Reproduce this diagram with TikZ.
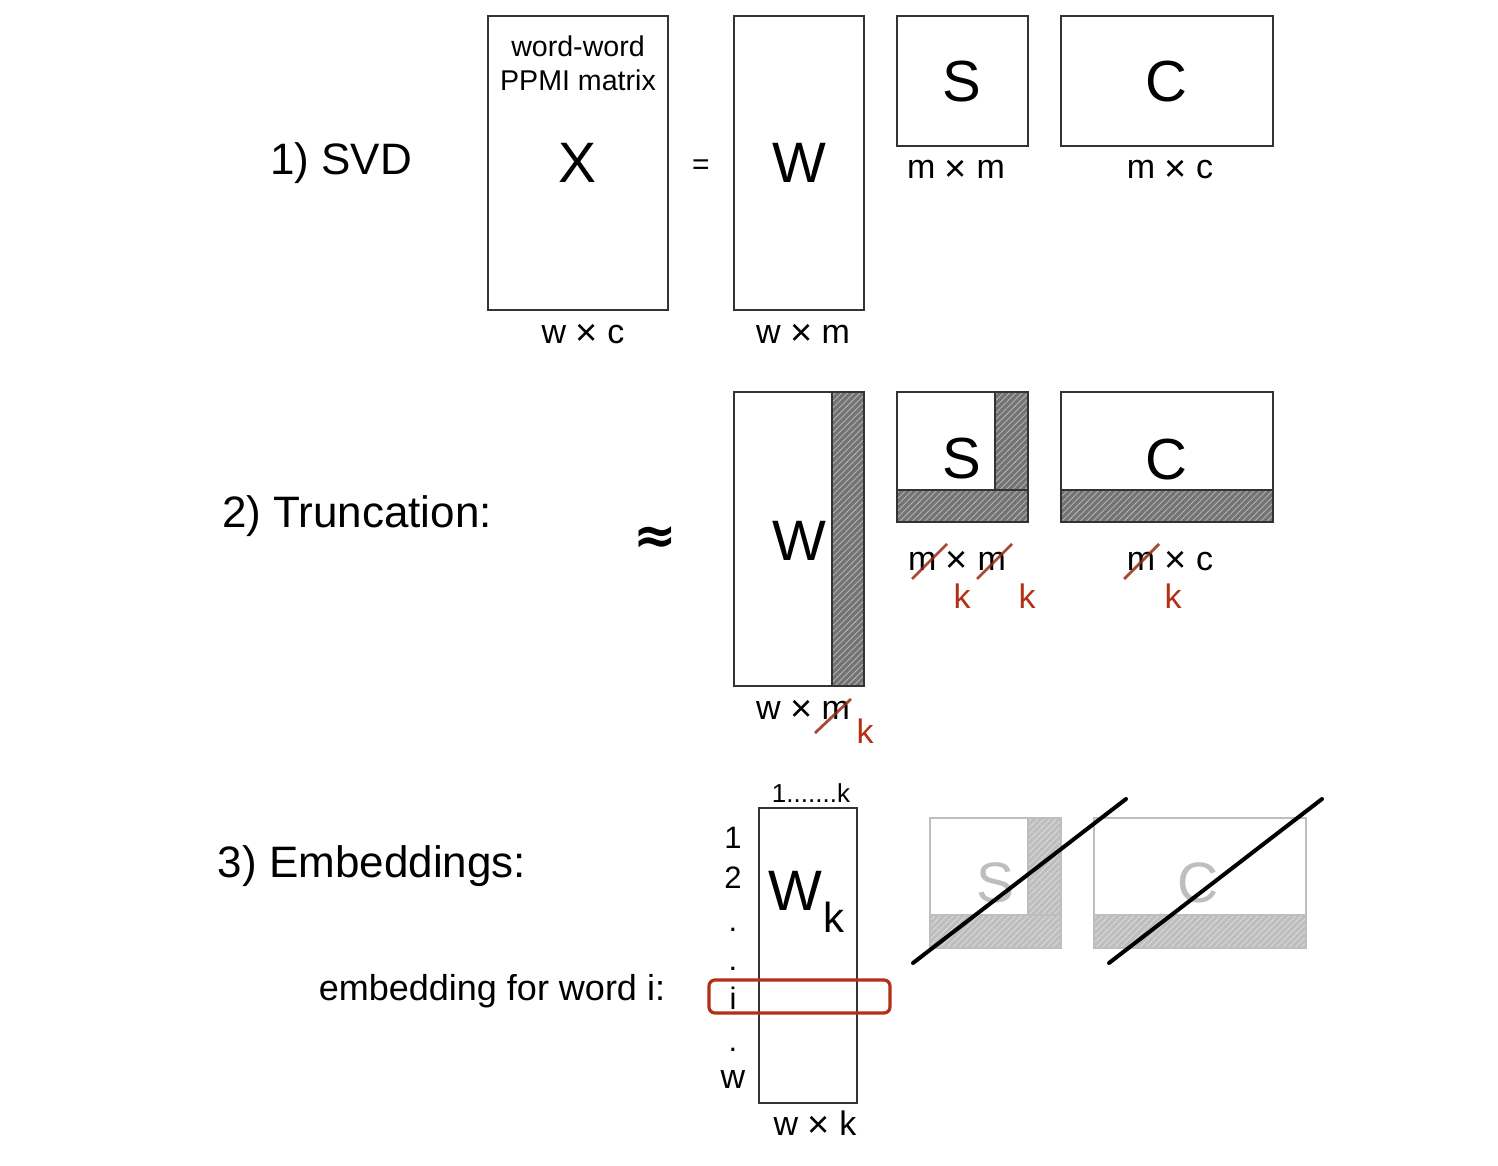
\documentclass[tikz,border=0pt]{standalone}
\usepackage{fontspec}
\setmainfont{Liberation Sans}
\newfontfamily\symfont{DejaVu Sans}
\usetikzlibrary{patterns.meta}
\definecolor{redk}{RGB}{178,48,22}
\definecolor{fadeg}{RGB}{190,190,190}
\tikzset{
  mbox/.style={draw=black!80, line width=1pt},
  fbox/.style={draw=fadeg, line width=1pt},
  hatch/.style={preaction={fill=black!55}, pattern={Lines[angle=45,distance=2.2pt,line width=0.45pt]}, pattern color=white!70!black},
  fhatch/.style={preaction={fill=fadeg}, pattern={Lines[angle=45,distance=2.2pt,line width=0.45pt]}, pattern color=white!85!black},
  titlelab/.style={font=\fontsize{22pt}{26pt}\selectfont, anchor=base, inner sep=0pt},
  biglab/.style={font=\fontsize{28.5pt}{32pt}\selectfont, anchor=base, inner sep=0pt},
  bigS/.style={font=\fontsize{29pt}{32pt}\selectfont, anchor=base, inner sep=0pt},
  dimlab/.style={font=\fontsize{17pt}{20pt}\selectfont, anchor=base, inner sep=0pt},
  klab/.style={font=\fontsize{17pt}{20pt}\selectfont, anchor=base, inner sep=0pt, text=redk},
  smalllab/.style={font=\fontsize{14.3pt}{17pt}\selectfont, anchor=base, inner sep=0pt},
  rowlab/.style={font=\fontsize{15.5pt}{18pt}\selectfont, anchor=base, inner sep=0pt},
  strike/.style={draw=redk!85!black, line width=1.4pt, opacity=0.85},
  cross/.style={draw=black, line width=2pt, line cap=round},
}
\newcommand{\tms}{\raisebox{-1.3pt}{\fontsize{19pt}{20pt}\selectfont ×}}
\begin{document}
\begin{tikzpicture}[x=0.5pt,y=-0.5pt]
\useasboundingbox (0,0) rectangle (1498,1166);
% ---------- row 1 ----------
\node[titlelab] (t1) at (341,175) {1) SVD};
\draw[mbox] (488,16) rectangle (668,310);
\node[smalllab] (ww) at (578,57) {word-word};
\node[smalllab] (ppmi) at (578,91) {PPMI matrix};
\node[biglab] (X) at (578,183) {X};
\node[dimlab] (dX) at (583,343) {w \tms{} c};
\node[font=\fontsize{15pt}{16pt}\selectfont, inner sep=0pt] (eq) at (701,167) {=};
\draw[mbox] (734,16) rectangle (864,310);
\node[biglab] (W1) at (799,183) {W};
\node[dimlab] (dW1) at (803,343) {w \tms{} m};
\draw[mbox] (897,16) rectangle (1028,146);
\node[bigS] (S1) at (962,102) {S};
\node[dimlab] (dS1) at (956,179) {m \tms{} m};
\draw[mbox] (1061,16) rectangle (1273,146);
\node[bigS] (C1) at (1166,102) {C};
\node[dimlab] (dC1) at (1170,179) {m \tms{} c};
% ---------- row 2 ----------
\node[titlelab] (t2) at (357,527) {2) Truncation:};
\node[font=\symfont\bfseries\fontsize{26pt}{30pt}\selectfont, inner sep=0pt] (approx) at (655,540) {≈};
\path[hatch] (832,392) rectangle (864,686);
\draw[mbox] (734,392) rectangle (864,686);
\draw[mbox] (832,392) -- (832,686);
\node[biglab] (W2) at (799,560) {W};
\node[dimlab] (dW2) at (803,719) {w \tms{} m};
\draw[strike] (815,733) -- (851,699);
\node[klab] (kW2) at (865,743) {k};
% S truncated
\path[hatch] (995,392) rectangle (1028,490);
\path[hatch] (897,490) rectangle (1028,522);
\draw[mbox] (897,392) rectangle (1028,522);
\draw[mbox] (897,490) -- (1028,490);
\draw[mbox] (995,392) -- (995,490);
\node[bigS] (S2) at (962,478) {S};
\node[dimlab] (dS2) at (957,570) {m \tms{} m};
\draw[strike] (912,579) -- (947,544);
\draw[strike] (977,579) -- (1012,544);
\node[klab] (kS2a) at (962,608) {k};
\node[klab] (kS2b) at (1027,608) {k};
% C truncated
\path[hatch] (1061,490) rectangle (1273,522);
\draw[mbox] (1061,392) rectangle (1273,522);
\draw[mbox] (1061,490) -- (1273,490);
\node[bigS] (C2) at (1166,479) {C};
\node[dimlab] (dC2) at (1170,570) {m \tms{} c};
\draw[strike] (1124,579) -- (1159,544);
\node[klab] (kC2) at (1173,608) {k};
% ---------- row 3 ----------
\node[titlelab] (t3) at (372,877) {3) Embeddings:};
\node[font=\fontsize{18pt}{21pt}\selectfont, anchor=base, inner sep=0pt] (emb) at (492,1000) {embedding for word i:};
\node[font=\fontsize{13pt}{15pt}\selectfont, anchor=base, inner sep=0pt] (idx) at (811,802) {1.......k};
\draw[mbox] (759,808) rectangle (857,1103);
\node[biglab, anchor=base west] (Wk) at (768,910) {W};
\node[font=\fontsize{21pt}{24pt}\selectfont, anchor=base west, inner sep=0pt] (kk) at (Wk.base east) [yshift=-11pt] {k};
\node[rowlab] (r1) at (733,848) {1};
\node[rowlab] (r2) at (733,888) {2};
\node[rowlab] (r3) at (733,931) {.};
\node[rowlab] (r4) at (733,970) {.};
\node[rowlab] (ri) at (733,1009) {i};
\node[rowlab] (r5) at (733,1051) {.};
\node[rowlab, font=\fontsize{17pt}{20pt}\selectfont] (rw) at (733,1088) {w};
\draw[draw=redk, line width=1.6pt, rounded corners=3pt] (709,980) rectangle (890,1013);
\node[dimlab] (dWk) at (815,1135) {w \tms{} k};
% faded S
\path[fhatch] (1028,818) rectangle (1061,915);
\path[fhatch] (930,915) rectangle (1061,948);
\draw[fbox] (930,818) rectangle (1061,948);
\draw[fbox] (930,915) -- (1061,915);
\draw[fbox] (1028,818) -- (1028,915);
\node[biglab, text=fadeg] (S3) at (995,902) {S};
% faded C
\path[fhatch] (1094,915) rectangle (1306,948);
\draw[fbox] (1094,818) rectangle (1306,948);
\draw[fbox] (1094,915) -- (1306,915);
\node[biglab, text=fadeg] (C3) at (1198,902) {C};
% crossing lines
\coordinate (a1) at (913,963);
\coordinate (a2) at (1126,799);
\coordinate (b1) at (1109,963);
\coordinate (b2) at (1322,799);
\draw[cross] (a1) -- (a2);
\draw[cross] (b1) -- (b2);
\end{tikzpicture}
\end{document}
